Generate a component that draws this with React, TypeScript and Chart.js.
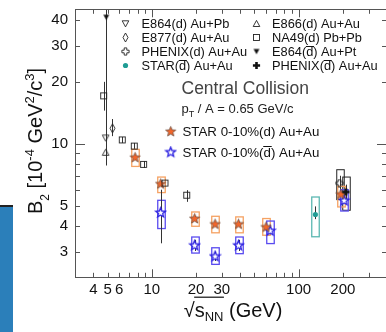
import { useEffect, useRef } from 'react';
import { Chart, registerables } from 'chart.js';
Chart.register(...registerables);

const FONT = '"Liberation Sans", Arial, Helvetica, sans-serif';

// ---- axes ----
const xRange = [3, 400];
const yRange = [2.25, 45];
const xTickValues = [3, 4, 5, 6, 7, 8, 9, 10, 20, 30, 40, 50, 60, 70, 80, 90, 100, 200, 300, 400];
const xTickLabels = ['', '4', '5', '6', '', '', '', '10', '20', '30', '', '', '', '', '', '', '100', '200', '', ''];
const xMajorTicks = [10, 100];
const yTickValues = [3, 4, 5, 6, 7, 8, 9, 10, 20, 30, 40];
const yTickLabels = ['3', '4', '5', '', '', '', '', '10', '20', '30', '40'];
const yMajorTicks = [10];

// ---- data ----
// E864(d) Au+Pb
const e864dX = [4.85];
const e864dY = [10.7];
const e864dErr = [0.8];
// E866(d) Au+Au
const e866dX = [4.85];
const e866dY = [9.1];
const e866dErrHi = [1.1];
const e866dErrLo = [1.25];
// E877(d) Au+Au
const e877dX = [5.4];
const e877dY = [11.9];
const e877dErrHi = [1.3];
const e877dErrLo = [1.0];
// NA49(d) Pb+Pb
const na49dX = [4.7, 6.3, 7.6, 8.8, 12.3, 17.3];
const na49dY = [17.1, 10.45, 9.75, 7.95, 6.45, 5.63];
const na49dErrHi = [2.9, 0.35, 0.35, 0.3, 0.3, 0.33];
const na49dErrLo = [2.6, 0.35, 0.35, 0.3, 0.3, 0.4];
// E864(dbar) Au+Pt
const e864dbarX = [4.9];
const e864dbarY = [41.2];
const e864dbarErrHi = [20];
const e864dbarErrLo = [33.2];
// PHENIX(d) Au+Au
const phenixdX = [190];
const phenixdY = [6.45];
const phenixdErr = [0.55];
const phenixdSysLo = [5.36];
const phenixdSysHi = [7.49];
// PHENIX(dbar) Au+Au
const phenixdbarX = [210];
const phenixdbarY = [5.84];
const phenixdbarErr = [0.5];
const phenixdbarSysLo = [4.76];
const phenixdbarSysHi = [6.9];
// STAR(dbar) Au+Au 130 GeV
const star130X = [130];
const star130Y = [4.54];
const star130ErrHi = [0.43];
const star130ErrLo = [0.23];
const star130SysLo = [3.54];
const star130SysHi = [5.52];
// STAR 0-10% (d) Au+Au
const starDX = [7.7, 11.5, 19.6, 27, 39, 60, 194];
const starDY = [8.6, 6.4, 4.34, 4.08, 4.08, 3.95, 5.7];
const starDErr = [0.25, 0.2, 0.1, 0.1, 0.1, 0.1, 0.1];
const starDSysLo = [7.77, 5.8, 3.98, 3.7, 3.7, 3.6, 4.94];
const starDSysHi = [9.4, 6.9, 4.67, 4.45, 4.42, 4.34, 6.22];
// STAR 0-10% (dbar) Au+Au
const starDbarX = [11.5, 19.6, 27, 39, 64, 204];
const starDbarY = [4.64, 3.22, 2.85, 3.22, 3.79, 5.32];
const starDbarErr = [1.35, 0.2, 0.15, 0.2, 0.15, 0.15];
const starDbarSysLo = [3.88, 2.95, 2.6, 2.93, 3.28, 4.72];
const starDbarSysHi = [5.32, 3.53, 3.13, 3.53, 4.22, 5.99];

const legendCol1 = ['E864(d) Au+Pb', 'E877(d) Au+Au', 'PHENIX(d) Au+Au', 'STAR(d\u0304) Au+Au'];
const legendCol2 = ['E866(d) Au+Au', 'NA49(d) Pb+Pb', 'E864(d\u0304) Au+Pt', 'PHENIX(d\u0304) Au+Au'];
const legendStar = ['STAR 0-10%(d) Au+Au', 'STAR 0-10%(d\u0304) Au+Au'];
const noteTitle = 'Central Collision';

const BOX_HW = 3.75;

// ---- markers ----
function mk(w: number, h: number, draw: (c: CanvasRenderingContext2D) => void) {
  const cv = document.createElement('canvas');
  cv.width = w;
  cv.height = h;
  const c = cv.getContext('2d')!;
  draw(c);
  return cv;
}
function poly(c: CanvasRenderingContext2D, pts: number[][]) {
  c.beginPath();
  pts.forEach((p, i) => (i ? c.lineTo(p[0], p[1]) : c.moveTo(p[0], p[1])));
  c.closePath();
}
function crossPts(cx: number, cy: number, a: number, t: number) {
  return [
    [cx - t, cy - a], [cx + t, cy - a], [cx + t, cy - t], [cx + a, cy - t], [cx + a, cy + t], [cx + t, cy + t],
    [cx + t, cy + a], [cx - t, cy + a], [cx - t, cy + t], [cx - a, cy + t], [cx - a, cy - t], [cx - t, cy - t],
  ];
}
function starPts(cx: number, cy: number, R: number, r: number) {
  const pts: number[][] = [];
  for (let i = 0; i < 10; i++) {
    const ang = -Math.PI / 2 + (i * Math.PI) / 5;
    const rad = i % 2 ? r : R;
    pts.push([cx + rad * Math.cos(ang), cy + rad * Math.sin(ang)]);
  }
  return pts;
}
function makeMarkers() {
  const stroke = '#222';
  return {
    triDownOpen: mk(9, 9, (c) => { poly(c, [[1.2, 1.8], [7.8, 1.8], [4.5, 7.9]]); c.strokeStyle = stroke; c.lineWidth = 0.9; c.stroke(); }),
    triUpOpen: mk(9, 9, (c) => { poly(c, [[1.2, 7.5], [7.8, 7.5], [4.5, 1.4]]); c.strokeStyle = stroke; c.lineWidth = 0.9; c.stroke(); }),
    diamondOpen: mk(7, 11, (c) => { poly(c, [[3.5, 1], [6, 5.5], [3.5, 10], [1, 5.5]]); c.strokeStyle = stroke; c.lineWidth = 0.9; c.stroke(); }),
    squareOpen: mk(9, 9, (c) => { c.strokeStyle = stroke; c.lineWidth = 0.9; c.strokeRect(1.5, 1.5, 6, 6); }),
    crossOpen: mk(9, 9, (c) => { poly(c, crossPts(4.5, 4.5, 3.6, 1.3)); c.strokeStyle = stroke; c.lineWidth = 0.9; c.stroke(); }),
    crossFilled: mk(9, 9, (c) => { poly(c, crossPts(4.5, 4.5, 3.6, 1.3)); c.fillStyle = '#111'; c.fill(); }),
    triDownFilled: mk(8, 8, (c) => { poly(c, [[1, 1.5], [7, 1.5], [4, 6.8]]); c.fillStyle = '#111'; c.fill(); }),
    dotTeal: mk(7, 7, (c) => { c.beginPath(); c.arc(3.5, 3.5, 2.6, 0, Math.PI * 2); c.fillStyle = '#1f9c94'; c.fill(); }),
    starOrange: mk(13, 13, (c) => { poly(c, starPts(6.5, 6.8, 5.3, 2.3)); c.fillStyle = '#f2662a'; c.fill(); c.strokeStyle = '#6e4c3c'; c.lineWidth = 0.8; c.stroke(); }),
    starBlue: mk(13, 13, (c) => { poly(c, starPts(6.5, 6.8, 5.1, 2.2)); c.fillStyle = '#ffffff'; c.fill(); c.strokeStyle = '#2a1fe0'; c.lineWidth = 1.3; c.stroke(); }),
  };
}

// text with an overlined "d" (written as d + combining macron in the label)
function fillBarText(ctx: CanvasRenderingContext2D, text: string, x: number, y: number, size: number) {
  ctx.font = `${size}px ${FONT}`;
  const idx = text.indexOf('\u0304');
  const plain = text.replace('\u0304', '');
  ctx.fillText(plain, x, y);
  if (idx > 0) {
    const pre = ctx.measureText(plain.slice(0, idx - 1)).width;
    const dw = ctx.measureText('d').width;
    const by = Math.round(y - size * 0.8) + 0.5;
    ctx.save();
    ctx.strokeStyle = ctx.fillStyle as string;
    ctx.lineWidth = 1;
    ctx.beginPath();
    ctx.moveTo(x + pre - 0.3, by);
    ctx.lineTo(x + pre + dw + 0.8, by);
    ctx.stroke();
    ctx.restore();
  }
}

type Seg = { t: string; size: number; dy?: number };
function drawRich(ctx: CanvasRenderingContext2D, segs: Seg[], x: number, y: number, center: boolean) {
  const widths = segs.map((s) => { ctx.font = `${s.size}px ${FONT}`; return ctx.measureText(s.t).width; });
  const total = widths.reduce((a, b) => a + b, 0);
  let cx = center ? x - total / 2 : x;
  const starts: number[] = [];
  segs.forEach((s, i) => {
    ctx.font = `${s.size}px ${FONT}`;
    starts.push(cx);
    ctx.fillText(s.t, cx, y + (s.dy || 0));
    cx += widths[i];
  });
  starts.push(cx);
  return starts;
}

function pts(xs: number[], ys: number[]) {
  return xs.map((x, i) => ({ x, y: ys[i] }));
}

export default function App() {
  const ref = useRef<HTMLCanvasElement>(null);
  useEffect(() => {
    const M = makeMarkers();
    const decor = {
      id: 'decor',
      beforeDatasetsDraw(chart: any) {
        const { ctx, chartArea: a } = chart;
        const xs = chart.scales.x, ys = chart.scales.y;
        ctx.save();
        ctx.beginPath();
        ctx.rect(a.left, a.top, a.right - a.left, a.bottom - a.top);
        ctx.clip();
        chart.data.datasets.forEach((ds: any) => {
          ds.data.forEach((p: any, i: number) => {
            const px = Math.round(xs.getPixelForValue(p.x)) + 0.5;
            if (ds.sysLo) {
              const t = ys.getPixelForValue(ds.sysHi[i]);
              const b = ys.getPixelForValue(ds.sysLo[i]);
              ctx.strokeStyle = ds.boxColor;
              ctx.lineWidth = ds.boxLine || 1.2;
              ctx.strokeRect(px - BOX_HW, t, 2 * BOX_HW, b - t);
            }
            if (ds.errLo) {
              const t = ys.getPixelForValue(p.y + ds.errHi[i]);
              const b = ys.getPixelForValue(p.y - ds.errLo[i]);
              ctx.strokeStyle = '#333';
              ctx.lineWidth = 1;
              ctx.beginPath();
              ctx.moveTo(px, t);
              ctx.lineTo(px, b);
              ctx.stroke();
            }
          });
        });
        ctx.restore();
      },
      afterDraw(chart: any) {
        const { ctx, chartArea: a } = chart;
        const xs = chart.scales.x, ys = chart.scales.y;
        ctx.save();
        // frame
        ctx.strokeStyle = '#555';
        ctx.lineWidth = 1;
        ctx.strokeRect(Math.round(a.left) + 0.5, Math.round(a.top) + 0.5, Math.round(a.right - a.left), Math.round(a.bottom - a.top));
        // ticks
        ctx.beginPath();
        xTickValues.forEach((v) => {
          if (v <= xRange[0] || v >= xRange[1]) return;
          const px = Math.round(xs.getPixelForValue(v)) + 0.5;
          const L = xMajorTicks.includes(v) ? 8 : 4.5;
          ctx.moveTo(px, a.bottom); ctx.lineTo(px, a.bottom - L);
          ctx.moveTo(px, a.top); ctx.lineTo(px, a.top + L);
        });
        yTickValues.forEach((v) => {
          const py = Math.round(ys.getPixelForValue(v)) + 0.5;
          const L = yMajorTicks.includes(v) ? 10 : 5;
          ctx.moveTo(a.left, py); ctx.lineTo(a.left + L, py);
          ctx.moveTo(a.right, py); ctx.lineTo(a.right - L, py);
        });
        ctx.stroke();

        // legend
        ctx.fillStyle = '#111';
        ctx.textBaseline = 'alphabetic';
        ctx.textAlign = 'left';
        const rows = [28, 42, 56, 70];
        const c1 = [M.triDownOpen, M.diamondOpen, M.crossOpen, M.dotTeal];
        const c2 = [M.triUpOpen, M.squareOpen, M.triDownFilled, M.crossFilled];
        rows.forEach((by, i) => {
          const my = by - 4.5;
          ctx.drawImage(c1[i], 125.5 - c1[i].width / 2, my - c1[i].height / 2);
          ctx.drawImage(c2[i], 256.5 - c2[i].width / 2, my - c2[i].height / 2);
          fillBarText(ctx, legendCol1[i], 141.5, by, 12.8);
          fillBarText(ctx, legendCol2[i], 272, by, 12.8);
        });
        // note
        ctx.fillStyle = '#444';
        ctx.font = `17.5px ${FONT}`;
        ctx.fillText(noteTitle, 181.5, 94.3);
        ctx.fillStyle = '#222';
        drawRich(ctx, [
          { t: 'p', size: 13 },
          { t: 'T', size: 9, dy: 4 },
          { t: ' / A = 0.65 GeV/c', size: 13 },
        ], 181.5, 113.3, false);
        ctx.fillStyle = '#111';
        ctx.drawImage(M.starOrange, 170.7 - 6.5, 131.7 - 6.8);
        fillBarText(ctx, legendStar[0], 182.5, 136, 13.3);
        ctx.drawImage(M.starBlue, 170.7 - 6.5, 152.3 - 6.8);
        fillBarText(ctx, legendStar[1], 182.5, 156.7, 13.3);

        // x title
        ctx.fillStyle = '#111';
        const st = drawRich(ctx, [
          { t: '\u221A', size: 20 },
          { t: 's', size: 20 },
          { t: 'NN', size: 13, dy: 4 },
          { t: ' (GeV)', size: 20 },
        ], 233, 316.7, true);
        ctx.strokeStyle = '#111';
        ctx.lineWidth = 1.2;
        ctx.beginPath();
        ctx.moveTo(st[1] - 0.5, 297.2);
        ctx.lineTo(st[3] + 0.5, 297.2);
        ctx.stroke();

        // y title
        ctx.translate(41.7, 141);
        ctx.rotate(-Math.PI / 2);
        drawRich(ctx, [
          { t: 'B', size: 20 },
          { t: '2', size: 12, dy: 7 },
          { t: ' [10', size: 20 },
          { t: '-4', size: 13, dy: -8 },
          { t: ' GeV', size: 20 },
          { t: '2', size: 13, dy: -8 },
          { t: '/c', size: 20 },
          { t: '3', size: 13, dy: -8 },
          { t: ']', size: 20 },
        ], 0, 0, true);
        ctx.restore();
      },
    };

    const mkDs = (label: string, xs: number[], ys: number[], img: HTMLCanvasElement, extra: any = {}) => ({
      label,
      data: pts(xs, ys),
      pointStyle: img,
      pointRadius: 4,
      showLine: false,
      ...extra,
    });

    const chart = new Chart(ref.current!, {
      type: 'scatter',
      data: {
        datasets: [
          mkDs('NA49(d) Pb+Pb', na49dX, na49dY, M.squareOpen, { errHi: na49dErrHi, errLo: na49dErrLo }),
          mkDs('E864(d) Au+Pb', e864dX, e864dY, M.triDownOpen, { errHi: e864dErr, errLo: e864dErr }),
          mkDs('E866(d) Au+Au', e866dX, e866dY, M.triUpOpen, { errHi: e866dErrHi, errLo: e866dErrLo }),
          mkDs('E877(d) Au+Au', e877dX, e877dY, M.diamondOpen, { errHi: e877dErrHi, errLo: e877dErrLo }),
          mkDs('E864(dbar) Au+Pt', e864dbarX, e864dbarY, M.triDownFilled, { errHi: e864dbarErrHi, errLo: e864dbarErrLo }),
          mkDs('PHENIX(d) Au+Au', phenixdX, phenixdY, M.crossOpen, { errHi: phenixdErr, errLo: phenixdErr, sysLo: phenixdSysLo, sysHi: phenixdSysHi, boxColor: '#222', boxLine: 1 }),
          mkDs('PHENIX(dbar) Au+Au', phenixdbarX, phenixdbarY, M.crossFilled, { errHi: phenixdbarErr, errLo: phenixdbarErr, sysLo: phenixdbarSysLo, sysHi: phenixdbarSysHi, boxColor: '#222', boxLine: 1 }),
          mkDs('STAR(dbar) Au+Au', star130X, star130Y, M.dotTeal, { errHi: star130ErrHi, errLo: star130ErrLo, sysLo: star130SysLo, sysHi: star130SysHi, boxColor: '#5cb8b2', boxLine: 1.3 }),
          mkDs('STAR 0-10%(d) Au+Au', starDX, starDY, M.starOrange, { errHi: starDErr, errLo: starDErr, sysLo: starDSysLo, sysHi: starDSysHi, boxColor: '#f5a263', boxLine: 1.3 }),
          mkDs('STAR 0-10%(dbar) Au+Au', starDbarX, starDbarY, M.starBlue, { errHi: starDbarErr, errLo: starDbarErr, sysLo: starDbarSysLo, sysHi: starDbarSysHi, boxColor: '#5a4cf0', boxLine: 1.3 }),
        ] as any,
      },
      options: {
        responsive: false,
        animation: false,
        events: [],
        layout: { padding: { top: 9.3, right: 3, left: 0, bottom: 0 } },
        plugins: { legend: { display: false }, tooltip: { enabled: false } },
        scales: {
          x: {
            type: 'logarithmic',
            min: xRange[0],
            max: xRange[1],
            grid: { display: false, drawTicks: false },
            border: { display: false },
            afterBuildTicks: (s: any) => { s.ticks = xTickValues.map((v) => ({ value: v })); },
            afterFit: (s: any) => { s.height = 54.7; s.paddingLeft = 0; s.paddingRight = 0; },
            ticks: {
              autoSkip: false,
              maxRotation: 0,
              padding: 4,
              color: '#111',
              font: { family: FONT, size: 15 },
              callback: (_v: any, i: number) => xTickLabels[i],
            },
          },
          y: {
            type: 'logarithmic',
            min: yRange[0],
            max: yRange[1],
            grid: { display: false, drawTicks: false },
            border: { display: false },
            afterBuildTicks: (s: any) => { s.ticks = yTickValues.map((v) => ({ value: v })); },
            afterFit: (s: any) => { s.width = 75; s.paddingTop = 0; s.paddingBottom = 0; },
            ticks: {
              autoSkip: false,
              padding: 7,
              color: '#111',
              font: { family: FONT, size: 15 },
              callback: (_v: any, i: number) => yTickLabels[i],
            },
          },
        },
      } as any,
      plugins: [decor],
    });
    return () => chart.destroy();
  }, []);

  return (
    <div style={{ position: 'fixed', left: 0, top: 0, width: 386, height: 332, overflow: 'hidden', background: '#fff' }}>
      <canvas ref={ref} width={392} height={332} style={{ width: 392, height: 332, display: 'block' }} />
      <div style={{ position: 'absolute', left: 0, top: 205, width: 13, height: 127, background: '#2b7fba', borderTop: '2px solid #222', boxSizing: 'border-box' }} />
    </div>
  );
}
